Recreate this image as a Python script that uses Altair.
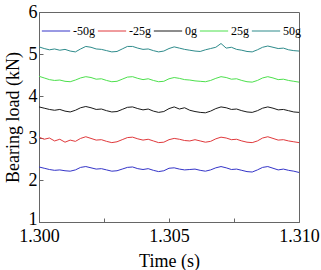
import altair as alt
import pandas as pd

# Time axis: 1.3000 s to 1.3100 s, sampled every 0.0002 s
t0 = 1.300
dt = 0.0002

series_names = ["-50g", "-25g", "0g", "25g", "50g"]
series_colors = ["#3434c8", "#e0393c", "#1a1a1a", "#4ce04c", "#2e8b8b"]

load_m50 = [2.31, 2.28, 2.25, 2.23, 2.24, 2.22, 2.21, 2.24, 2.30, 2.32,
            2.29, 2.26, 2.27, 2.24, 2.21, 2.22, 2.26, 2.30, 2.31, 2.27,
            2.25, 2.27, 2.23, 2.20, 2.22, 2.28, 2.29, 2.26, 2.24, 2.25,
            2.26, 2.23, 2.21, 2.24, 2.29, 2.32, 2.29, 2.25, 2.26, 2.23,
            2.20, 2.19, 2.24, 2.30, 2.32, 2.28, 2.24, 2.26, 2.23, 2.21,
            2.18]
load_m25 = [3.02, 2.97, 3.00, 2.93, 2.97, 2.90, 2.95, 2.92, 2.99, 3.03,
            2.99, 2.95, 2.96, 2.92, 2.89, 2.91, 2.96, 3.01, 3.02, 2.98,
            2.95, 2.97, 2.93, 2.89, 2.90, 2.96, 2.99, 2.97, 2.94, 2.93,
            2.96, 2.93, 2.90, 2.92, 2.98, 3.02, 3.00, 2.96, 2.97, 2.93,
            2.90, 2.89, 2.93, 3.00, 3.03, 2.99, 2.95, 2.96, 2.93, 2.91,
            2.89]
load_0 = [3.74, 3.71, 3.68, 3.66, 3.68, 3.64, 3.62, 3.66, 3.72, 3.75,
          3.72, 3.68, 3.69, 3.65, 3.62, 3.63, 3.68, 3.73, 3.74, 3.70,
          3.67, 3.69, 3.64, 3.61, 3.63, 3.70, 3.74, 3.69, 3.72, 3.66,
          3.63, 3.61, 3.60, 3.64, 3.70, 3.74, 3.72, 3.68, 3.69, 3.65,
          3.62, 3.61, 3.65, 3.71, 3.74, 3.71, 3.67, 3.68, 3.65, 3.62,
          3.61]
load_p25 = [4.47, 4.43, 4.39, 4.37, 4.38, 4.35, 4.34, 4.38, 4.43, 4.46,
            4.44, 4.40, 4.41, 4.37, 4.34, 4.35, 4.40, 4.45, 4.46, 4.42,
            4.39, 4.41, 4.37, 4.34, 4.35, 4.41, 4.44, 4.42, 4.39, 4.38,
            4.36, 4.35, 4.34, 4.37, 4.42, 4.46, 4.44, 4.40, 4.41, 4.37,
            4.34, 4.33, 4.37, 4.43, 4.46, 4.43, 4.39, 4.40, 4.37, 4.35,
            4.33]
load_p50 = [5.17, 5.13, 5.10, 5.12, 5.09, 5.11, 5.07, 5.05, 5.12, 5.18,
            5.16, 5.12, 5.11, 5.08, 5.05, 5.06, 5.12, 5.18, 5.18, 5.14,
            5.11, 5.12, 5.08, 5.05, 5.07, 5.13, 5.17, 5.14, 5.11, 5.09,
            5.07, 5.06, 5.10, 5.13, 5.16, 5.25, 5.14, 5.16, 5.11, 5.09,
            5.06, 5.05, 5.10, 5.16, 5.19, 5.16, 5.13, 5.14, 5.10, 5.08,
            5.07]

x_ticks = [1.300, 1.3025, 1.305, 1.3075, 1.310]
y_ticks = [1, 2, 3, 4, 5, 6]

rows = []
for name, vals in zip(series_names,
                      [load_m50, load_m25, load_0, load_p25, load_p50]):
    for i, v in enumerate(vals):
        rows.append({"series": name, "t": t0 + i * dt, "load": v})
df = pd.DataFrame(rows)

serif = "Liberation Serif"
frame = "#666666"

chart = alt.Chart(df).mark_line(strokeWidth=1).encode(
    x=alt.X("t:Q",
            scale=alt.Scale(domain=[1.300, 1.310], nice=False, zero=False),
            axis=alt.Axis(values=x_ticks, format=".3f",
                          labelExpr="round(datum.value*10000) % 50 == 0 ? datum.label : ''",
                          title="Time (s)", grid=False, labelFlush=False,
                          labelOverlap=False, tickSize=alt.ExprRef("-4"),
                          labelPadding=9, titlePadding=7)),
    y=alt.Y("load:Q",
            scale=alt.Scale(domain=[1, 6], nice=False, zero=False),
            axis=alt.Axis(values=y_ticks, title="Bearing load (kN)",
                          grid=False, tickSize=alt.ExprRef("-4"),
                          labelOffset={"condition": {"test": "datum.value == 1",
                                                     "value": -3},
                                       "value": 0},
                          labelPadding=6, titlePadding=6)),
    color=alt.Color("series:N",
                    scale=alt.Scale(domain=series_names, range=series_colors),
                    sort=series_names,
                    legend=alt.Legend(title=None, orient="none",
                                      legendX=2, legendY=4,
                                      direction="horizontal",
                                      symbolType="stroke", symbolSize=800,
                                      symbolStrokeWidth=1,
                                      labelFont=serif, labelFontSize=12,
                                      labelColor="black", labelOffset=2,
                                      columnPadding=0, padding=0)),
).properties(
    width=260, height=210,
    autosize="none",
    padding={"left": 39, "top": 12, "right": 22, "bottom": 48},
).configure_view(
    stroke=frame, strokeWidth=1
).configure_axis(
    domainColor=frame, tickColor=frame,
    labelFont=serif, labelFontSize=18, labelColor="black",
    titleFont=serif, titleFontSize=18, titleColor="black",
    titleFontWeight="normal"
)

chart.save("out.html", embed_options={"renderer": "svg", "actions": False})
